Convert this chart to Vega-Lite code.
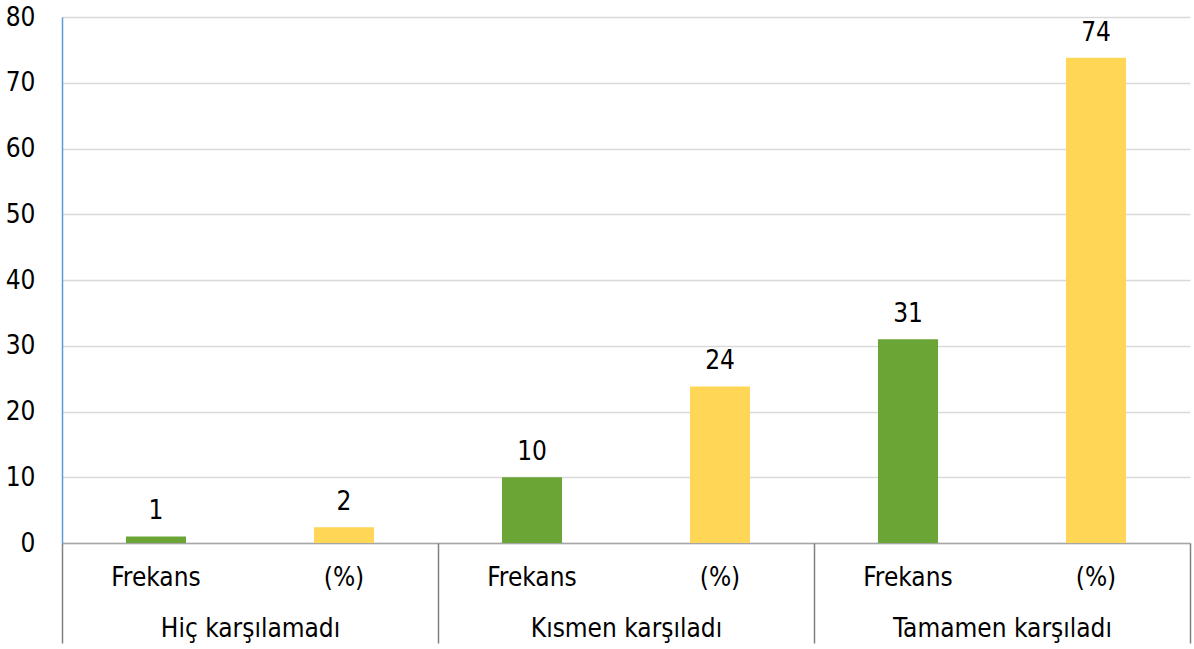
{
  "$schema": "https://vega.github.io/schema/vega-lite/v6.json",
  "width": 1128,
  "height": 526,
  "autosize": "none",
  "padding": {"left": 62, "top": 17, "right": 4, "bottom": 106},
  "config": {"view": {"stroke": null}, "font": "Liberation Sans Narrow, DejaVu Sans Condensed, sans-serif"},
  "data": {"values": [
    {"group": "Hiç karşılamadı", "category": "Frekans", "key": "Hiç karşılamadı|Frekans", "value": 1, "label": "1"},
    {"group": "Hiç karşılamadı", "category": "(%)", "key": "Hiç karşılamadı|(%)", "value": 2.38, "label": "2"},
    {"group": "Kısmen karşıladı", "category": "Frekans", "key": "Kısmen karşıladı|Frekans", "value": 10, "label": "10"},
    {"group": "Kısmen karşıladı", "category": "(%)", "key": "Kısmen karşıladı|(%)", "value": 23.81, "label": "24"},
    {"group": "Tamamen karşıladı", "category": "Frekans", "key": "Tamamen karşıladı|Frekans", "value": 31, "label": "31"},
    {"group": "Tamamen karşıladı", "category": "(%)", "key": "Tamamen karşıladı|(%)", "value": 73.81, "label": "74"}
  ]},
  "layer": [
    {
      "layer": [
        {
          "mark": {"type": "bar", "width": 60},
          "encoding": {
            "x": {"field": "key", "type": "nominal", "sort": null,
              "scale": {"paddingInner": 0, "paddingOuter": 0},
              "axis": {"orient": "bottom", "labelExpr": "split(datum.value,'|')[1]", "ticks": false, "domain": true, "domainColor": "#A6A6A6", "domainWidth": 1.5, "labelFontSize": 26, "labelPadding": 21, "labelAngle": 0, "labelLimit": 0, "title": null, "grid": false, "labelColor": "#000000"}},
            "y": {"field": "value", "type": "quantitative", "scale": {"domain": [0, 80]},
              "axis": {"values": [0, 10, 20, 30, 40, 50, 60, 70, 80], "title": null, "ticks": false, "domainColor": "#5B9BD5", "domainWidth": 1.5, "gridColor": "#D9D9D9", "gridWidth": 1.5, "labelFontSize": 26, "labelPadding": 27, "labelColor": "#000000"}},
            "color": {"field": "category", "type": "nominal", "scale": {"domain": ["Frekans", "(%)"], "range": ["#6AA535", "#FFD655"]}, "legend": null}
          }
        },
        {
          "mark": {"type": "text", "baseline": "alphabetic", "dy": -17, "fontSize": 26, "color": "#000000"},
          "encoding": {
            "x": {"field": "key", "type": "nominal", "sort": null},
            "y": {"field": "value", "type": "quantitative"},
            "text": {"field": "label"}
          }
        }
      ]
    },
    {
      "mark": {"type": "tick", "opacity": 0},
      "encoding": {
        "x": {"field": "group", "type": "nominal", "sort": null,
          "scale": {"paddingInner": 0, "paddingOuter": 0},
          "axis": {"orient": "bottom", "tickBand": "extent", "tickSize": 100, "tickColor": "#808080", "tickWidth": 1.5, "domain": false, "labelFontSize": 26, "labelPadding": -28, "labelLimit": 0, "labelColor": "#000000", "title": null, "labelAngle": 0, "grid": false}}
      }
    }
  ],
  "resolve": {"scale": {"x": "independent"}, "axis": {"x": "independent"}}
}
